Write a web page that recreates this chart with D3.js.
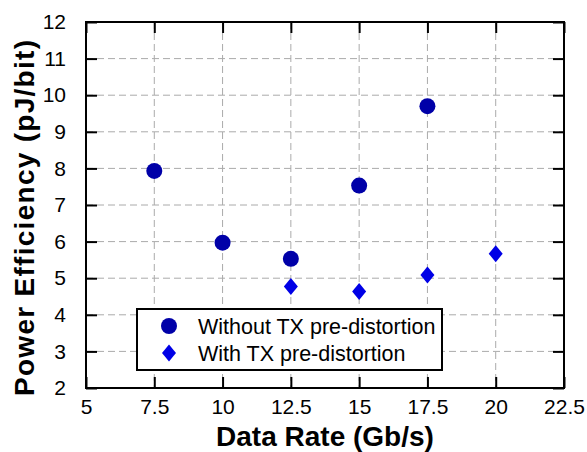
<!DOCTYPE html>
<html>
<head>
<meta charset="utf-8">
<script src="https://cdn.jsdelivr.net/npm/d3@7"></script>
<style>
  body { margin: 0; background: #fff; }
  svg { font-family: "Liberation Sans", Arial, sans-serif; }
  .grid line { stroke: #aaa; stroke-width: 1; stroke-dasharray: 7,4; }
</style>
</head>
<body>
<div id="vis"></div>
<script>
const svgWidth = 587,
  svgHeight = 452,
  margin = { top: 22, right: 23, bottom: 64, left: 86 };

const xTicks = [5, 7.5, 10, 12.5, 15, 17.5, 20, 22.5];
const yTicks = [2, 3, 4, 5, 6, 7, 8, 9, 10, 11, 12];

// without TX pre-distortion
const rateWithout = [7.5, 10, 12.5, 15, 17.5];
const effWithout = [7.93, 5.97, 5.53, 7.53, 9.7];
// with TX pre-distortion
const rateWith = [12.5, 15, 17.5, 20];
const effWith = [4.77, 4.64, 5.09, 5.67];

const legendLabels = ["Without TX pre-distortion", "With TX pre-distortion"];

const circleColor = "#0000a8",
  diamondColor = "#0000e6";

const svg = d3
  .select("#vis")
  .append("svg")
  .attr("width", svgWidth)
  .attr("height", svgHeight);

const x = d3.scaleLinear().domain([5, 22.5]).range([margin.left, svgWidth - margin.right]);
const y = d3.scaleLinear().domain([2, 12]).range([svgHeight - margin.bottom, margin.top]);

const x0 = x.range()[0],
  x1 = x.range()[1],
  y0 = y.range()[0],
  y1 = y.range()[1];

// grid
const grid = svg.append("g").attr("class", "grid");
grid
  .selectAll("line.v")
  .data(xTicks.slice(1, -1))
  .enter()
  .append("line")
  .attr("class", "v")
  .attr("x1", (d) => x(d))
  .attr("x2", (d) => x(d))
  .attr("y1", y1)
  .attr("y2", y0);
grid
  .selectAll("line.h")
  .data(yTicks.slice(1, -1))
  .enter()
  .append("line")
  .attr("class", "h")
  .attr("x1", x0)
  .attr("x2", x1)
  .attr("y1", (d) => y(d))
  .attr("y2", (d) => y(d));

// axes (ticks pointing inward on all sides)
const tickLen = 11;
const axisStyle = (g) => {
  g.select(".domain").remove();
  g.selectAll(".tick line").attr("stroke", "#000").attr("stroke-width", 2);
  g.selectAll(".tick text")
    .attr("fill", "#000")
    .style("font-size", "21px");
};

svg
  .append("g")
  .attr("transform", `translate(0,${y0})`)
  .call(d3.axisBottom(x).tickValues(xTicks).tickFormat(d3.format("")).tickSizeInner(-tickLen).tickSizeOuter(0).tickPadding(11))
  .call(axisStyle);
svg
  .append("g")
  .attr("transform", `translate(0,${y1})`)
  .call(d3.axisTop(x).tickValues(xTicks).tickFormat("").tickSizeInner(-tickLen).tickSizeOuter(0))
  .call(axisStyle);
svg
  .append("g")
  .attr("transform", `translate(${x0},0)`)
  .call(d3.axisLeft(y).tickValues(yTicks).tickFormat(d3.format("d")).tickSizeInner(-tickLen).tickSizeOuter(0).tickPadding(20))
  .call(axisStyle);
svg
  .append("g")
  .attr("transform", `translate(${x1},0)`)
  .call(d3.axisRight(y).tickValues(yTicks).tickFormat("").tickSizeInner(-tickLen).tickSizeOuter(0))
  .call(axisStyle);

// frame
svg
  .append("rect")
  .attr("x", x0)
  .attr("y", y1)
  .attr("width", x1 - x0)
  .attr("height", y0 - y1)
  .attr("fill", "none")
  .attr("stroke", "#000")
  .attr("stroke-width", 2);

// points
const circleSym = d3.symbol().type(d3.symbolCircle).size(Math.PI * 8 * 8);
const diamondPath = (w, h) => {
  const p = d3.path();
  p.moveTo(0, -h);
  p.lineTo(w, 0);
  p.lineTo(0, h);
  p.lineTo(-w, 0);
  p.closePath();
  return p.toString();
};

svg
  .append("g")
  .selectAll("path")
  .data(rateWithout)
  .enter()
  .append("path")
  .attr("d", circleSym)
  .attr("fill", circleColor)
  .attr("transform", (d, i) => `translate(${x(d)},${y(effWithout[i])})`);

svg
  .append("g")
  .selectAll("path")
  .data(rateWith)
  .enter()
  .append("path")
  .attr("d", diamondPath(7, 8.5))
  .attr("fill", diamondColor)
  .attr("transform", (d, i) => `translate(${x(d)},${y(effWith[i])})`);

// legend
const legend = svg.append("g").attr("transform", "translate(137,309)");
legend
  .append("rect")
  .attr("width", 305)
  .attr("height", 61)
  .attr("fill", "#fff")
  .attr("stroke", "#000")
  .attr("stroke-width", 2);
const rows = legend
  .selectAll("g")
  .data(legendLabels)
  .enter()
  .append("g")
  .attr("transform", (d, i) => `translate(0,${17 + i * 27})`);
rows
  .append("path")
  .attr("d", (d, i) => (i === 0 ? circleSym() : diamondPath(7, 8.5)))
  .attr("fill", (d, i) => (i === 0 ? circleColor : diamondColor))
  .attr("transform", "translate(32,0)");
rows
  .append("text")
  .attr("x", 61)
  .attr("dy", "0.36em")
  .style("font-size", "21.5px")
  .text((d) => d);

// axis titles
svg
  .append("text")
  .attr("x", (x0 + x1) / 2)
  .attr("y", 445.5)
  .attr("text-anchor", "middle")
  .style("font-size", "28px")
  .style("font-weight", "bold")
  .text("Data Rate (Gb/s)");

svg
  .append("text")
  .attr("transform", `translate(34,218) rotate(-90)`)
  .attr("text-anchor", "middle")
  .attr("textLength", 356)
  .style("font-size", "28px")
  .style("font-weight", "bold")
  .text("Power Efficiency (pJ/bit)");
</script>
</body>
</html>
